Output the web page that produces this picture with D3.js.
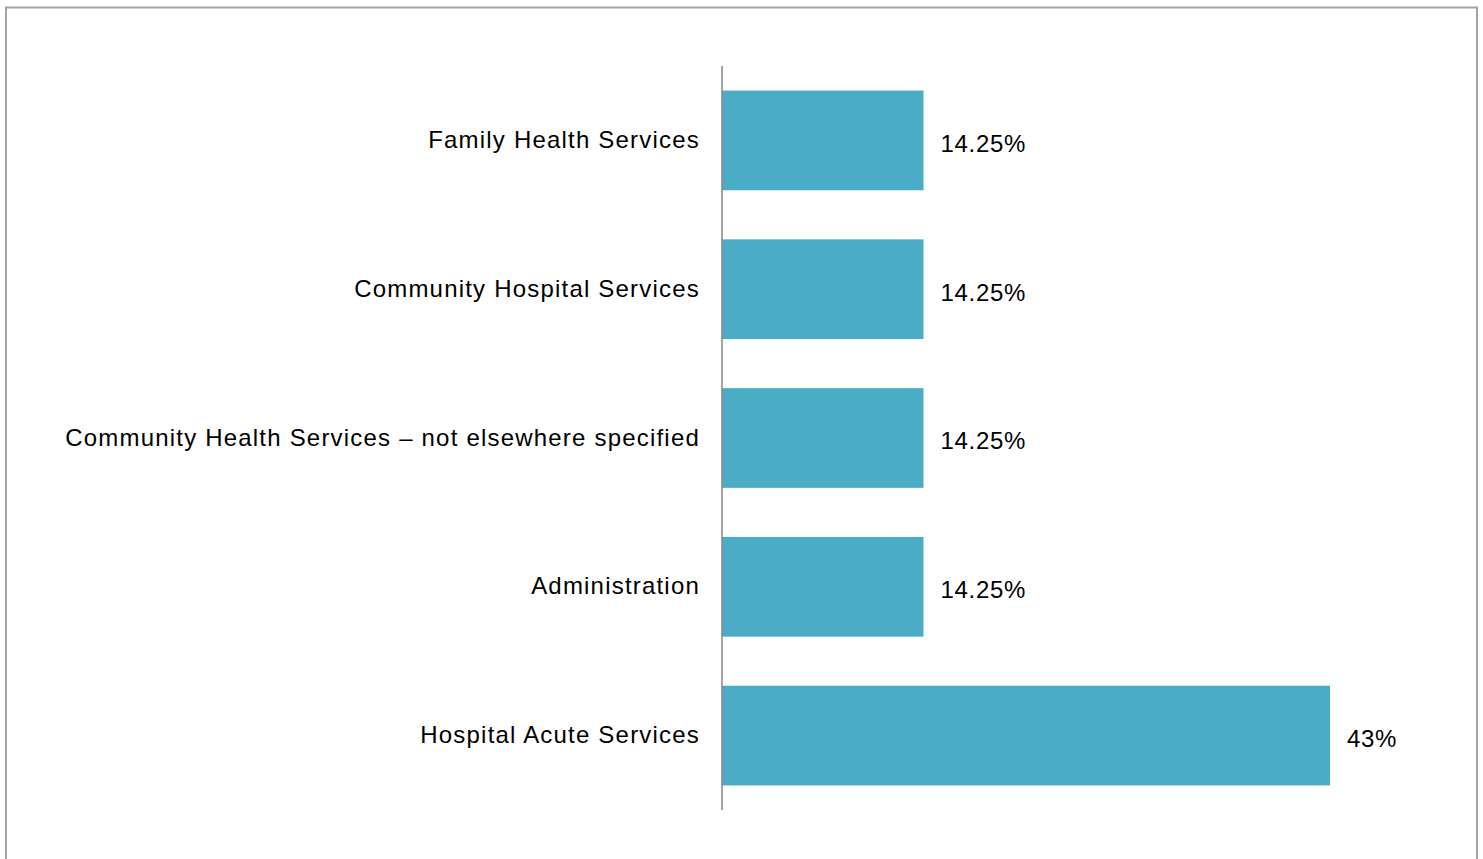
<!DOCTYPE html>
<html>
<head>
<meta charset="utf-8">
<script src="https://cdn.jsdelivr.net/npm/d3@7"></script>
<style>
  html, body { margin: 0; padding: 0; background: #fff; }
  svg { display: block; }
</style>
</head>
<body>
<svg id="chart" width="1483" height="859"></svg>
<script>
// Share of spending by service area
const categories = [
  "Family Health Services",
  "Community Hospital Services",
  "Community Health Services \u2013 not elsewhere specified",
  "Administration",
  "Hospital Acute Services"
];
const values = [14.25, 14.25, 14.25, 14.25, 43];
const valueLabels = ["14.25%", "14.25%", "14.25%", "14.25%", "43%"];

const svg = d3.select("#chart");
const W = 1483, H = 859;

// outer frame
svg.append("rect")
  .attr("x", 6).attr("y", 7.5)
  .attr("width", 1471).attr("height", H + 20)
  .attr("fill", "none")
  .attr("stroke", "#a3a3a3")
  .attr("stroke-width", 2);

const x0 = 722;
const x = d3.scaleLinear().domain([0, 50]).range([x0, x0 + 707]);
const y = d3.scaleBand()
  .domain(categories)
  .range([66, 810])
  .paddingInner(0.33)
  .paddingOuter(0.165);

// bars
svg.append("g").selectAll("rect")
  .data(categories)
  .join("rect")
  .attr("x", x(0))
  .attr("y", d => y(d))
  .attr("width", (d, i) => x(values[i]) - x(0))
  .attr("height", y.bandwidth())
  .attr("fill", "#4BACC6");

// category axis
const axis = svg.append("g")
  .attr("transform", `translate(${x0},0)`)
  .call(d3.axisLeft(y).tickSize(0).tickPadding(22));
axis.select(".domain")
  .attr("stroke", "#868686")
  .attr("stroke-width", 1.5)
  .attr("d", "M0,66V810");
axis.selectAll("text")
  .attr("font-family", "Liberation Sans, Arial, sans-serif")
  .attr("font-size", 24)
  .attr("fill", "#000")
  .style("letter-spacing", "1.2px");

// value labels
svg.append("g").selectAll("text")
  .data(categories)
  .join("text")
  .attr("x", (d, i) => x(values[i]) + 17)
  .attr("y", d => y(d) + y.bandwidth() / 2 + 3)
  .attr("dy", "0.35em")
  .attr("font-family", "Liberation Sans, Arial, sans-serif")
  .attr("font-size", 24)
  .attr("fill", "#000")
  .style("letter-spacing", "0.7px")
  .text((d, i) => valueLabels[i]);
</script>
</body>
</html>
